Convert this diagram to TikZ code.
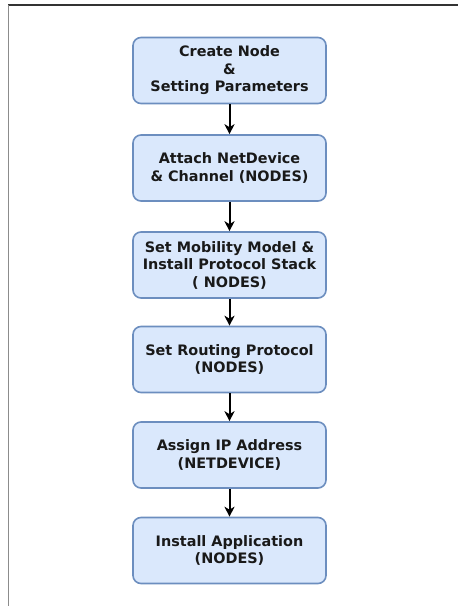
\documentclass[tikz,border=0pt]{standalone}
\usepackage{fontspec}
\setmainfont{DejaVu Sans}
\usetikzlibrary{arrows.meta}
\definecolor{boxfill}{HTML}{DAE8FC}
\definecolor{boxline}{HTML}{6C8EBF}
\tikzset{
  stepbox/.style={draw=boxline, fill=boxfill, line width=1.6pt, rounded corners=8pt,
    minimum width=193pt, minimum height=66pt, inner sep=0pt, align=center,
    font=\fontsize{14.4}{17.5}\selectfont\bfseries, text=black!90},
  flow/.style={-{Stealth[length=10pt,width=10pt,inset=3pt]}, line width=2pt, black}
}
\begin{document}
\begin{tikzpicture}[x=1pt,y=1pt]
\useasboundingbox (0,0) rectangle (458,-606);
\fill[white] (0,0) rectangle (458,-606);
\draw[line width=1.2pt, black!80] (8,-5) -- (458,-5);
\draw[line width=1.4pt, black!45] (8.5,-5) -- (8.5,-606);
\node[stepbox] (n1) at (229.5,-70.5) {Create Node\\\&\\Setting Parameters};
\node[stepbox] (n2) at (229.5,-168) {Attach NetDevice\\\& Channel (NODES)};
\node[stepbox] (n3) at (229.5,-265) {Set Mobility Model \&\\Install Protocol Stack\\( NODES)};
\node[stepbox] (n4) at (229.5,-359.5) {Set Routing Protocol\\(NODES)};
\node[stepbox] (n5) at (229.5,-455) {Assign IP Address\\(NETDEVICE)};
\node[stepbox] (n6) at (229.5,-550.5) {Install Application\\(NODES)};
\draw[flow] (n1) -- (n2);
\draw[flow] (n2) -- (n3);
\draw[flow] (n3) -- (n4);
\draw[flow] (n4) -- (n5);
\draw[flow] (n5) -- (n6);
\end{tikzpicture}
\end{document}
